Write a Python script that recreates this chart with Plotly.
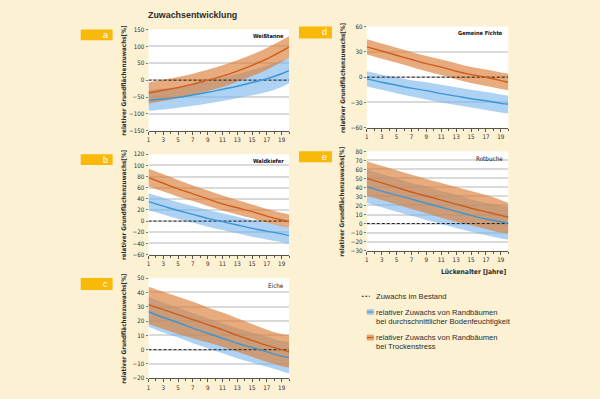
import plotly.graph_objects as go

W, H = 600, 399

# ---------------- data ----------------
years = [1, 3, 5, 7, 9, 11, 13, 15, 17, 19, 20]
year_ticks = [1, 3, 5, 7, 9, 11, 13, 15, 17, 19]
bestand = [0, 0]
bestand_x = [1, 20]

# a  Weißtanne
wt_blue = [-60, -56, -51, -44, -36, -27, -18, -7, 4, 19, 28]
wt_blue_lo = [-91, -87, -82, -76, -69, -62, -54, -45, -35, -20, -9]
wt_blue_hi = [-29, -25, -20, -12, -3, 7, 18, 30, 43, 58, 65]
wt_orange = [-38, -30, -22, -12, 0, 12, 27, 44, 63, 86, 98]
wt_orange_lo = [-70, -62, -54, -44, -32, -20, -5, 12, 31, 54, 66]
wt_orange_hi = [-7, 1, 9, 19, 31, 44, 59, 76, 95, 118, 130]

# b  Waldkiefer
wk_blue = [35, 27, 19, 12, 5, -1, -7, -13, -18, -23, -26]
wk_blue_lo = [20, 12, 4, -3, -10, -16, -22, -28, -33, -38, -41]
wk_blue_hi = [50, 42, 34, 27, 20, 14, 8, 2, -3, -8, -11]
wk_orange = [78, 68, 58, 49, 40, 31, 24, 17, 9, 2, -1]
wk_orange_lo = [62, 53, 44, 36, 27, 19, 12, 5, -3, -9, -11]
wk_orange_hi = [94, 84, 74, 64, 55, 46, 38, 30, 22, 15, 12]

# c  Eiche
ei_blue = [26.5, 22.5, 19, 15, 11.5, 8, 4.5, 1.5, -1.5, -4.5, -5.5]
ei_blue_lo = [16, 12, 8.5, 4.5, 1, -2.5, -6, -9, -12, -15, -16.5]
ei_blue_hi = [37, 33, 29.5, 25.5, 22, 18.5, 15, 12, 9, 6, 5.5]
ei_orange = [31.5, 28, 24.5, 21, 17.5, 14, 10, 6.5, 3, 0, -1.5]
ei_orange_lo = [18, 14.5, 11, 8, 5, 2, -1.5, -5, -8.5, -11.5, -12.5]
ei_orange_hi = [44, 40.5, 37, 33.5, 29.5, 26, 22, 18, 14, 11, 10]

# d  Gemeine Fichte
fi_blue = [-2, -6, -9.5, -13, -16, -19.5, -22.5, -25.5, -28, -31, -32]
fi_blue_lo = [-11, -15, -19, -23, -26.5, -30, -33, -36, -39, -42, -43]
fi_blue_hi = [7, 3, 0, -3.5, -6, -9, -12, -15, -17.5, -20.5, -22]
fi_orange = [36, 31, 26, 21, 16, 12, 7, 3, 0, -4, -6]
fi_orange_lo = [27, 22, 17, 12, 7, 2.5, -2.5, -7, -10.5, -14, -15.5]
fi_orange_hi = [45, 40, 35, 30, 25, 21, 16.5, 12, 9, 5.5, 4]

# e  Rotbuche
rb_blue = [41, 36, 31.5, 27, 22.5, 18, 13.5, 9, 5, 2, 0.5]
rb_blue_lo = [23, 18, 13, 8.5, 4, -0.5, -5, -9, -13, -16.5, -18]
rb_blue_hi = [60, 55, 50, 45, 41, 36, 32, 27, 23, 20, 18]
rb_orange = [50, 45, 40, 35, 30.5, 26, 21.5, 17, 13, 9, 7]
rb_orange_lo = [31, 26, 21, 16, 11.5, 6.5, 2, -2, -6, -10, -11]
rb_orange_hi = [69, 64, 59, 54, 49.5, 45, 40.5, 36, 31.5, 26, 23]

# ---------------- styling ----------------
BG = "#FDF1D3"
TAG = "#F9B90A"
BLUE_FILL = "rgba(120,180,235,0.6)"
ORANGE_FILL = "rgba(220,128,58,0.66)"
BLUE_LINE = "#3A97D6"
ORANGE_LINE = "#CF5C1B"
GRID = "#DADADA"
TXT = "#2b2b2b"
NARROW = "Liberation Sans Narrow, DejaVu Sans Condensed, sans-serif"
REG = "Liberation Sans, Arial, sans-serif"

panels = [
    dict(name="Weißtanne", tag="a", box=(147, 288, 26, 129), yr=(-150, 150), dt=50,
         b=(wt_blue, wt_blue_lo, wt_blue_hi), o=(wt_orange, wt_orange_lo, wt_orange_hi),
         tagbox=(79, 111, 26, 37), ytx=122, bold=True),
    dict(name="Waldkiefer", tag="b", box=(147, 288, 153, 255), yr=(-60, 120), dt=20,
         b=(wk_blue, wk_blue_lo, wk_blue_hi), o=(wk_orange, wk_orange_lo, wk_orange_hi),
         tagbox=(79, 111, 153, 164), ytx=122, bold=True),
    dict(name="Eiche", tag="c", box=(147, 288, 279, 381), yr=(-20, 50), dt=10,
         b=(ei_blue, ei_blue_lo, ei_blue_hi), o=(ei_orange, ei_orange_lo, ei_orange_hi),
         tagbox=(79, 111, 279, 291), ytx=122, bold=False),
    dict(name="Gemeine Fichte", tag="d", box=(366, 508, 23, 126), yr=(-60, 60), dt=30,
         b=(fi_blue, fi_blue_lo, fi_blue_hi), o=(fi_orange, fi_orange_lo, fi_orange_hi),
         tagbox=(298, 331, 23, 35), ytx=341, bold=True),
    dict(name="Rotbuche", tag="e", box=(366, 508, 150, 251), yr=(-30, 80), dt=10,
         b=(rb_blue, rb_blue_lo, rb_blue_hi), o=(rb_orange, rb_orange_lo, rb_orange_hi),
         tagbox=(298, 331, 150, 161), ytx=341, bold=False),
]

fig = go.Figure()
layout = dict(
    width=W, height=H, margin=dict(l=0, r=0, t=0, b=0),
    paper_bgcolor=BG, plot_bgcolor="white", showlegend=False,
    font=dict(family=NARROW, color=TXT, size=7),
)
annotations = []
shapes = []


def px(x):
    return x / W


def py(y):
    return 1 - y / H


def note(x, y, text, size, family=REG, xanchor="center", color=TXT, angle=0):
    annotations.append(dict(x=px(x), y=py(y), xref="paper", yref="paper", text=text,
                            showarrow=False, xanchor=xanchor, yanchor="middle", textangle=angle,
                            font=dict(size=size, family=family, color=color)))


for i, p in enumerate(panels, start=1):
    xa = "x" if i == 1 else f"x{i}"
    ya = "y" if i == 1 else f"y{i}"
    x0, x1, y0, y1 = p["box"]
    for (mean, lo, hi), fill in ((p["b"], BLUE_FILL), (p["o"], ORANGE_FILL)):
        fig.add_trace(go.Scatter(x=years, y=lo, mode="lines", line=dict(width=0, shape="spline"),
                                 xaxis=xa, yaxis=ya, hoverinfo="skip"))
        fig.add_trace(go.Scatter(x=years, y=hi, mode="lines", line=dict(width=0, shape="spline"),
                                 fill="tonexty", fillcolor=fill, xaxis=xa, yaxis=ya, hoverinfo="skip"))
    fig.add_trace(go.Scatter(x=bestand_x, y=bestand, mode="lines",
                             line=dict(color="#222", width=1, dash="3px,2px"), xaxis=xa, yaxis=ya))
    fig.add_trace(go.Scatter(x=years, y=p["b"][0], mode="lines",
                             line=dict(color=BLUE_LINE, width=1.4, shape="spline"), xaxis=xa, yaxis=ya))
    fig.add_trace(go.Scatter(x=years, y=p["o"][0], mode="lines",
                             line=dict(color=ORANGE_LINE, width=1.4, shape="spline"), xaxis=xa, yaxis=ya))

    layout["xaxis" if i == 1 else f"xaxis{i}"] = dict(
        domain=[px(x0), px(x1)], anchor=ya, range=[1, 20],
        tickvals=year_ticks, ticks="outside", ticklen=3, tickwidth=1, tickcolor="#555",
        minor=dict(ticks="outside", dtick=1, tick0=1, ticklen=2, tickcolor="#555", showgrid=False),
        showgrid=False, zeroline=False, showline=True, linecolor="#555", linewidth=1,
        tickfont=dict(size=6.2, color=TXT, family=NARROW), fixedrange=True,
    )
    layout["yaxis" if i == 1 else f"yaxis{i}"] = dict(
        domain=[py(y1), py(y0)], anchor=xa, range=list(p["yr"]), dtick=p["dt"],
        ticks="outside", ticklen=2, tickcolor="#777", showgrid=True, gridcolor=GRID, gridwidth=1.5,
        zeroline=False, showline=False, tickfont=dict(size=6.2, color=TXT, family=NARROW),
        fixedrange=True,
    )
    # species label
    label = f"<b>{p['name']}</b>" if p["bold"] else p["name"]
    lsize = 5.6 if p["bold"] else 6.3
    annotations.append(dict(x=px(x1 - 3), y=py(y0 + 1.5), xref="paper", yref="paper",
                            text=label, showarrow=False, xanchor="right",
                            yanchor="top", font=dict(size=lsize, color="#111", family=NARROW)))
    # y axis title
    note(p["ytx"], (y0 + y1) / 2, "<b>relativer Grundflächenzuwachs[%]</b>", 6.3, family=NARROW, angle=-90)
    # tag box
    tx0, tx1, ty0, ty1 = p["tagbox"]
    shapes.append(dict(type="rect", xref="paper", yref="paper", x0=px(tx0), x1=px(tx1),
                       y0=py(ty1), y1=py(ty0), fillcolor=TAG, line=dict(width=0), layer="below"))
    note(tx1 - 3, (ty0 + ty1) / 2, p["tag"], 9, family=REG, xanchor="right", color="white")

# title
note(191, 11, "<b>Zuwachsentwicklung</b>", 8.9, family=REG)
# x-axis title (under panel e)
note(508, 273, "<b>Lückenalter [Jahre]</b>", 6.7, family=NARROW, xanchor="right")

# legend
LEG = 7.6
LX = 373
shapes.append(dict(type="line", xref="paper", yref="paper", x0=px(361), x1=px(369), y0=py(297.5),
                   y1=py(297.5), line=dict(color="#222", width=1, dash="2px,1.5px")))
note(LX, 297.5, "Zuwachs im Bestand", LEG, xanchor="left")
for (yc, fillc, linec, t1, t2) in (
    (313.5, BLUE_FILL, BLUE_LINE, "relativer Zuwachs von Randbäumen",
     "bei durchschnittlicher Bodenfeuchtigkeit"),
    (339.5, ORANGE_FILL, ORANGE_LINE, "relativer Zuwachs von Randbäumen", "bei Trockenstress"),
):
    shapes.append(dict(type="rect", xref="paper", yref="paper", x0=px(366), x1=px(373),
                       y0=py(yc + 3), y1=py(yc - 3), fillcolor=fillc, line=dict(width=0)))
    shapes.append(dict(type="line", xref="paper", yref="paper", x0=px(366), x1=px(373),
                       y0=py(yc), y1=py(yc), line=dict(color=linec, width=1.2)))
    note(LX, yc, t1, LEG, xanchor="left")
    note(LX, yc + 9.5, t2, LEG, xanchor="left")

layout["annotations"] = annotations
layout["shapes"] = shapes
fig.update_layout(**layout)
fig.write_html("out.html", config={"displayModeBar": False},
               post_script="document.body.style.margin='0';document.body.style.overflow='hidden';")
